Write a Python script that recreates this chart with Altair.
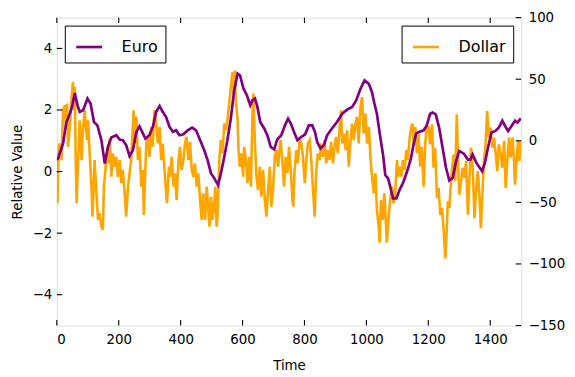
import altair as alt
import pandas as pd

# ---------------- data ----------------
euro_time = [0, 4, 20, 31, 42, 49, 58, 67, 74, 85, 99,
             109, 120, 131, 144, 155, 165, 176, 192, 203, 213,
             224, 235, 246, 257, 267, 278, 286, 299, 310, 321,
             332, 342, 353, 364, 375, 385, 396, 409, 423, 437,
             450, 463, 476, 487, 498, 509, 521, 530, 541, 551,
             562, 573, 584, 592, 603, 614, 625, 632, 640, 648,
             657, 670, 680, 691, 702, 712, 725, 737, 747, 756,
             766, 777, 788, 802, 814, 825, 834, 841, 852, 863,
             873, 889, 905, 922, 938, 954, 967, 981, 994, 1008,
             1018, 1026, 1034, 1043, 1054, 1061, 1070, 1077, 1086, 1097,
             1107, 1120, 1133, 1144, 1152, 1161, 1172, 1185, 1195, 1206,
             1214, 1224, 1235, 1246, 1257, 1268, 1279, 1290, 1300, 1315,
             1328, 1336, 1343, 1355, 1365, 1374, 1383, 1393, 1404, 1417,
             1428, 1439, 1448, 1458, 1469, 1480, 1488, 1499]
euro_value = [0.38, 0.43, 0.91, 1.61, 1.88, 2.10, 2.55, 2.15, 1.94, 1.99, 2.37,
              2.21, 1.61, 1.50, 1.02, 0.26, 0.80, 1.11, 1.18, 1.04, 1.02,
              0.86, 0.50, 0.70, 1.29, 1.47, 1.24, 1.07, 1.18, 1.45, 1.94,
              2.13, 1.94, 1.77, 1.45, 1.29, 1.34, 1.18, 1.21, 1.34, 1.43,
              1.34, 1.02, 0.70, 0.37, -0.06, -0.22, -0.44, -0.06, 0.48, 1.02,
              1.72, 2.64, 3.18, 3.12, 2.69, 2.48, 2.15, 2.31, 2.37, 2.10,
              1.61, 1.40, 1.18, 0.80, 0.72, 1.04, 1.18, 1.50, 1.72, 1.56,
              1.29, 1.02, 1.11, 1.21, 1.50, 1.50, 1.29, 0.96, 0.75, 0.86,
              1.18, 1.40, 1.61, 1.88, 2.01, 2.10, 2.31, 2.69, 2.96, 2.85,
              2.58, 2.21, 1.88, 1.24, 0.53, -0.11, -0.22, -0.49, -0.87, -0.87,
              -0.60, -0.33, 0.05, 0.43, 0.86, 1.24, 1.29, 1.34, 1.50, 1.88,
              1.92, 1.86, 1.43, 0.78, 0.13, -0.29, -0.20, 0.34, 0.67, 0.58,
              0.39, 0.39, 0.56, 0.29, 0.14, 0.01, 0.29, 0.78, 1.27, 1.32,
              1.43, 1.65, 1.48, 1.32, 1.48, 1.65, 1.59, 1.73]

dollar_time = [
    2, 6, 10, 15, 20, 26, 29, 33, 36, 42, 47, 52, 56, 58, 61, 64, 69, 74, 80, 85,
    90, 93, 98, 101, 106, 112, 115, 119, 122, 128, 133, 138, 144, 149, 152, 157, 160, 165, 171, 176,
    181, 187, 192, 197, 203, 208, 213, 219, 224, 230,
    240, 248, 251, 257, 262, 267, 273, 278, 281, 286, 289, 294, 299, 305, 310, 315, 321, 326, 332, 337,
    342, 348, 353, 356, 362, 366, 371, 377, 382, 387, 393, 398, 403, 409, 414, 419, 425, 430, 436, 441,
    446, 452, 457, 463, 468, 473,
    479, 484, 489, 493, 498, 503, 509, 512, 516, 519, 525, 530, 535, 541, 546, 551, 557, 562, 568, 571,
    575, 578, 584, 587, 591, 596, 602, 605, 611, 616, 621, 627, 632, 635, 640, 645, 650, 656, 661, 666,
    672, 677, 682, 688, 693, 699, 704, 709, 715,
    718, 723, 728, 734, 739, 745, 750, 756, 761, 764, 768, 774, 779, 784, 790, 795, 801, 806, 811, 817,
    822, 827, 833, 838, 843, 849, 854, 859, 865, 870, 876, 881, 886, 892, 897, 902, 908, 913, 918, 922,
    927, 933, 938, 943, 949, 954,
    959, 965, 970, 975, 981, 986, 991, 997, 1002, 1008, 1013, 1018, 1024, 1029, 1034, 1040, 1043, 1047, 1053, 1058,
    1061, 1066, 1072, 1077, 1083, 1088, 1093, 1099, 1102, 1107, 1113, 1118, 1123, 1129, 1134, 1140, 1145, 1149, 1152, 1158,
    1163, 1168, 1174, 1179, 1185, 1190, 1195,
    1201, 1206, 1212, 1217, 1222, 1228, 1233, 1239, 1244, 1250, 1255, 1260, 1263, 1268, 1272, 1277, 1282, 1287, 1292, 1296,
    1300, 1306, 1311, 1317, 1322, 1328, 1333, 1338, 1344, 1349, 1355, 1360, 1365, 1370, 1374, 1380, 1385, 1390, 1396, 1401,
    1407, 1412, 1417, 1423, 1428, 1434, 1439, 1445, 1450, 1455, 1461, 1466, 1472, 1477, 1480, 1485, 1490, 1494, 1499]
dollar_value = [
    -50.7, -4.9, -2.2, -15.7, 24.8, 28.8, 11.2, 30.2, -4.9, 11.2, 32.8, 47.7, 24.8, 43.6, -15.7, -50.7, -15.7, 16.7, -15.7, 11.2,
    24.8, 14.0, 0.5, 16.7, -10.3, -37.3, -61.6, -37.3, -15.7, -42.6, -64.2, -58.8, -69.7, -72.3, -37.3, -23.8, -10.3, -18.4, 1.9, -29.2,
    -10.3, -21.1, -13.0, -29.2, -15.7, -34.5, -23.8, -42.6, -61.6, -37.3,
    -15.7, 24.8, -2.2, 19.4, -15.7, -4.9, -37.3, -23.8, -60.2, -23.8, -2.2, 3.2, -13.0, 11.2, -4.9, 24.8, 14.0, -2.2, 11.2, -15.7,
    -2.2, -23.8, -42.6, -50.7, -21.1, -29.2, -13.0, -37.3, -26.5, -48.1, -15.7, -4.9, -23.8, -15.7, -2.2, 3.2, -15.7, -0.9, -23.8, -29.2,
    -18.4, -37.3, -26.5, -48.1, -64.2, -42.6,
    -64.2, -37.3, -53.5, -69.7, -45.4, -64.2, -48.1, -37.3, -69.7, -61.6, -15.7, 0.5, -10.3, 14.0, 8.6, 16.7, 30.2, 43.6, 55.7, 38.3,
    57.1, 32.8, 16.7, -7.6, -21.1, -10.3, -29.2, -4.9, -15.7, -34.5, -13.0, -37.3, 22.1, 38.3, -2.2, -29.2, -40.0, -21.1, -45.4, -23.8,
    -48.1, -61.6, -42.6, -21.1, -53.5, -37.3, -13.0, -7.6, -21.1,
    -10.3, 0.5, -15.7, -37.3, -13.0, -26.5, -4.9, -23.8, -48.1, -53.5, -23.8, -7.6, -18.4, 0.5, -2.2, -13.0, -34.5, -15.7, -2.2, 0.5,
    -15.7, -37.3, -61.6, -23.8, -10.3, -15.7, -2.2, -13.0, 0.5, -18.4, -7.6, -15.7, -0.9, -18.4, -4.9, 3.2, -10.3, 8.6, 24.8, -2.2,
    5.9, -7.6, 8.6, -21.1, 0.5, 14.0,
    0.5, 14.0, 19.4, -2.2, 27.4, 35.5, 5.9, 22.1, -2.2, 11.2, -13.0, -29.2, -42.6, -26.5, -56.1, -69.7, -82.8, -48.1, -64.2, -42.6,
    -56.1, -82.8, -61.6, -48.1, -37.3, -50.7, -42.6, -15.7, -29.2, -21.1, -29.2, -15.7, -23.8, -7.6, -15.7, 3.2, 11.2, 14.0, -2.2, 11.2,
    -10.3, 5.9, -21.1, -4.9, -37.3, -2.2, 11.2,
    10.8, -2.9, 13.4, -21.9, -5.6, -46.4, -38.3, -60.1, -54.6, -73.7, -95.5, -71.0, -49.2, -54.6, -38.3, -21.9, -11.1, -32.8, 21.6, -16.5,
    -43.8, -32.8, -21.9, -30.1, -16.5, -60.1, -30.1, -5.6, -24.7, -62.8, -38.3, -24.7, -43.8, -71.0, -46.4, -16.5, -2.9, 24.4, 2.6, 10.8,
    -5.6, 2.6, -8.3, -24.7, -2.9, -11.1, -21.9, -0.1, -38.3, -16.5, 2.6, -13.7, 2.6, -16.5, -35.6, -16.5, -0.1, -16.5, -0.1]

x_ticks = [0, 200, 400, 600, 800, 1000, 1200, 1400]
left_ticks = [-4, -2, 0, 2, 4]
right_ticks = [-150, -100, -50, 0, 50, 100]

euro = pd.DataFrame({"Time": euro_time, "Value": euro_value, "Series": "Euro"})
dollar = pd.DataFrame({"Time": dollar_time, "Value": dollar_value, "Series": "Dollar"})
xt = pd.DataFrame({"tick": x_ticks})
lt = pd.DataFrame({"tick": left_ticks})
rt = pd.DataFrame({"tick": right_ticks})

# ---------------- styling ----------------
W, H = 466, 309
FONT = "DejaVu Sans"
FS = 13.4
PURPLE = "#800080"
ORANGE = "#FFA500"
TICK = 5.5

xscale = alt.Scale(domain=[0, 1500], nice=False, zero=False)
lscale = alt.Scale(domain=[-5, 5], nice=False, zero=False)
rscale = alt.Scale(domain=[-150, 100], nice=False, zero=False)

common = dict(grid=False, domain=False, labelFont=FONT, labelFontSize=FS,
              labelColor="black", titleFont=FONT, titleFontSize=FS,
              titleFontWeight="normal", titleColor="black", format="d",
              ticks=False, tickSize=0)


def legend(orient):
    return alt.Legend(orient=orient, title=None, offset=8, padding=7,
                      strokeColor="black", fillColor="white", cornerRadius=0,
                      symbolType="stroke", symbolStrokeWidth=2.7, symbolSize=676,
                      symbolOffset=3, labelFont=FONT, labelFontSize=16,
                      labelColor="black", labelOffset=18)


orange = alt.Chart(dollar).mark_line(strokeWidth=2.6, clip=True).encode(
    x=alt.X("Time:Q", scale=xscale,
            axis=alt.Axis(orient="bottom", values=x_ticks, labelPadding=7,
                          title="Time", titleX=W / 2, titleY=44.5,
                          titleBaseline="alphabetic", titleAlign="center", **common)),
    y=alt.Y("Value:Q", scale=rscale,
            axis=alt.Axis(orient="right", values=right_ticks, labelPadding=7,
                          title=None, **common)),
    color=alt.Color("Series:N", scale=alt.Scale(domain=["Dollar"], range=[ORANGE]),
                    legend=legend("top-right")),
)

purple = alt.Chart(euro).mark_line(strokeWidth=2.7, clip=True).encode(
    x=alt.X("Time:Q", scale=xscale, axis=None),
    y=alt.Y("Value:Q", scale=lscale,
            axis=alt.Axis(orient="left", values=left_ticks, labelPadding=5,
                          title="Relative Value", titleX=-35, titleY=H / 2,
                          titleAngle=270, titleAlign="center",
                          titleBaseline="alphabetic", **common)),
    color=alt.Color("Series:N", scale=alt.Scale(domain=["Euro"], range=[PURPLE]),
                    legend=legend("top-left")),
)

# inward tick marks on all four sides (matplotlib classic style)
bottom_t = alt.Chart(xt).mark_rule(color="black", strokeWidth=1.1).encode(
    x=alt.X("tick:Q", scale=xscale, axis=None), y=alt.value(H), y2=alt.value(H - TICK))
top_t = alt.Chart(xt).mark_rule(color="black", strokeWidth=1.1).encode(
    x=alt.X("tick:Q", scale=xscale, axis=None), y=alt.value(0), y2=alt.value(TICK))
left_t = alt.Chart(lt).mark_rule(color="black", strokeWidth=1.1).encode(
    y=alt.Y("tick:Q", scale=lscale, axis=None), x=alt.value(0), x2=alt.value(TICK))
right_t = alt.Chart(rt).mark_rule(color="black", strokeWidth=1.1).encode(
    y=alt.Y("tick:Q", scale=rscale, axis=None), x=alt.value(W), x2=alt.value(W - TICK))

chart = (
    alt.layer(orange, purple, bottom_t, top_t, left_t, right_t)
    .resolve_scale(y="independent", color="independent")
    .resolve_axis(x="independent", y="independent")
    .resolve_legend(color="independent")
    .properties(width=W, height=H,
                autosize=alt.AutoSizeParams(type="none"),
                padding={"left": 49, "top": 9, "right": 46, "bottom": 51})
    .configure_view(stroke="black", strokeWidth=1.3)
    .configure(background="white")
)

chart.save("out.html", embed_options={"renderer": "svg", "actions": False})
